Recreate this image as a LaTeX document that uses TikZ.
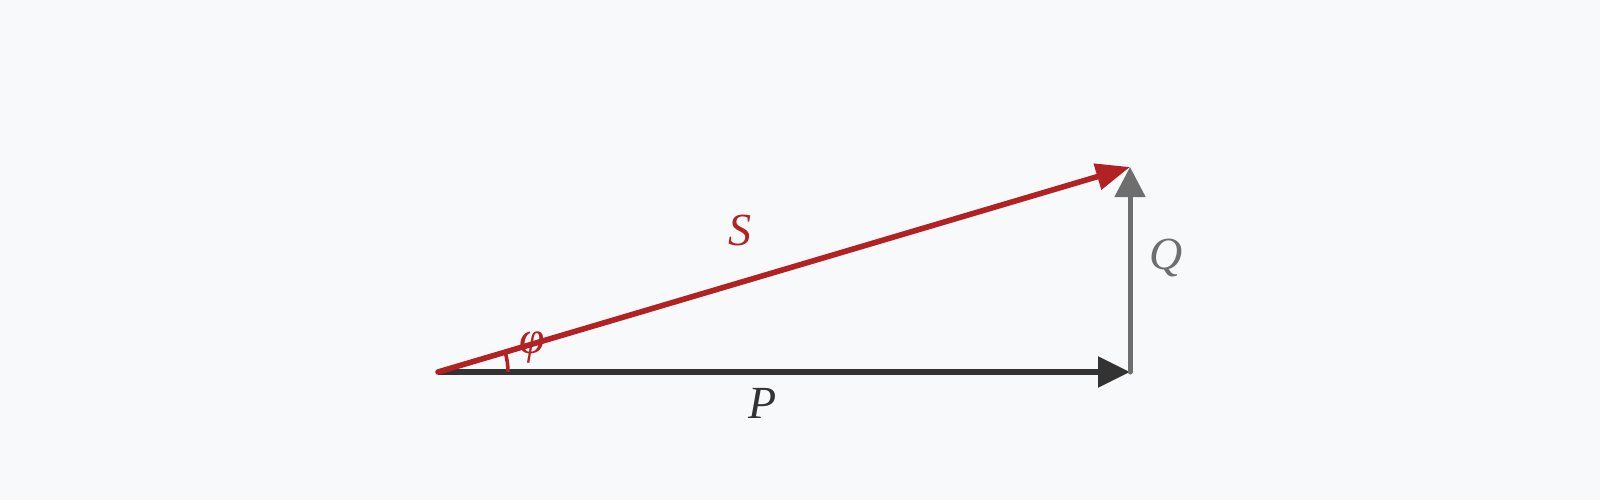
\documentclass[tikz,border=0pt]{standalone}
\usepackage{fontspec}
\setmainfont{Liberation Serif}
\usetikzlibrary{arrows.meta,calc}
\definecolor{bg}{HTML}{F8F9FB}
\definecolor{sred}{HTML}{B22222}
\definecolor{pdark}{HTML}{333333}
\definecolor{qgray}{HTML}{6E6E6E}
\begin{document}
\begin{tikzpicture}[x=0.5pt,y=-0.5pt,
  vec/.style={line width=2.8pt},
  lbl/.style={font=\fontsize{23}{27}\selectfont\itshape, inner sep=0pt}]
\fill[bg] (0,0) rectangle (1600,500);
\useasboundingbox (0,0) rectangle (1600,500);
\coordinate (O) at (438,372);
\coordinate (Pend) at (1130,372);
\coordinate (Send) at (1130,167);
% P
\draw[vec,pdark,-{Triangle[length=16pt,width=15pt]}] (O) -- (Pend);
% Q
\draw[line width=2.5pt,qgray,line cap=round,-{Triangle[length=15pt,width=15pt]}] (Pend) -- (Send);
% angle arc
\draw[sred,line width=1.8pt] ($(O)+(70,0)$) arc[start angle=0,end angle=16.4,radius=35pt];
% S
\draw[vec,sred,line cap=round,-{Triangle[length=17pt,width=13pt]}] (O) -- (Send);
\node[lbl,text=sred] (S) at (740,230) {S};
\node[lbl,text=pdark] (P) at (763,403) {P};
\node[lbl,text=qgray] (Q) at (1166,258) {Q};
\node[lbl,text=sred] (phi) at (532,348) {φ};
\end{tikzpicture}
\end{document}
